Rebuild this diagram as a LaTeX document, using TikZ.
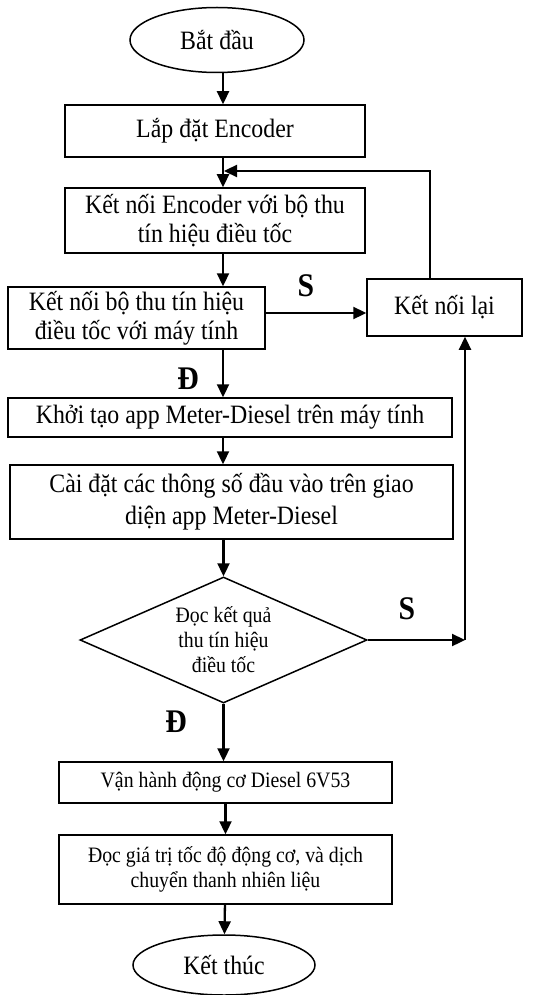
\documentclass[tikz,border=0pt]{standalone}
\usepackage{fontspec}
\setmainfont{Liberation Serif}[FakeStretch=0.9]
\usetikzlibrary{shapes.geometric,arrows.meta}

\begin{document}
\begin{tikzpicture}[x=1pt,y=1pt,
  box/.style={draw, rectangle, align=center, line width=1.5pt, inner sep=0pt, font=\fontsize{26.5}{29}\selectfont},
  oval/.style={draw, ellipse, line width=1.5pt, inner sep=0pt, font=\fontsize{26.5}{29}\selectfont},
  small/.style={font=\fontsize{22}{25}\selectfont},
  lbl/.style={inner sep=0pt, font=\fontsize{33}{33}\bfseries\selectfont},
  arr/.style={-{Triangle[length=13pt,width=12pt]}, line width=2.3pt}]
\useasboundingbox (0,0) rectangle (548,-995);
\coordinate (spine) at (223,0);
\node[oval, minimum width=174, minimum height=65] (start) at (217,-40) {Bắt đầu};
\node[box, minimum width=300, minimum height=52] (lap) at (215,-131) {Lắp đặt Encoder};
\node[box, minimum width=300, minimum height=65] (ketnoi) at (215,-220.5) {Kết nối Encoder với bộ thu\\tín hiệu điều tốc};
\node[box, minimum width=257, minimum height=62] (thubo) at (136.5,-318) {Kết nối bộ thu tín hiệu\\điều tốc với máy tính};
\node[box, minimum width=155, minimum height=57] (ketnoilai) at (444.5,-307.5) {Kết nối lại};
\node[box, minimum width=444, minimum height=39] (khoitao) at (230,-417.5) {Khởi tạo app Meter-Diesel trên máy tính};
\node[box, minimum width=443, minimum height=74, font=\fontsize{26.5}{32}\selectfont] (caidat) at (231.5,-502) {Cài đặt các thông số đầu vào trên giao\\diện app Meter-Diesel};
\node[draw, diamond, shape aspect=2.28, line width=1.5pt, inner sep=0pt, align=center, minimum width=287, minimum height=126, small] (docKQ) at (223.5,-640) {Đọc kết quả\\thu tín hiệu\\điều tốc};
\node[box, small, minimum width=333, minimum height=41] (vanhanh) at (225.5,-782.5) {Vận hành động cơ Diesel 6V53};
\node[box, small, minimum width=333, minimum height=69] (docGT) at (225.5,-869.5) {Đọc giá trị tốc độ động cơ, và dịch\\chuyển thanh nhiên liệu};
\node[oval, minimum width=182, minimum height=60] (stop) at (224,-965) {Kết thúc};
\node[lbl] (s1) at (306,-286) {S};
\node[lbl] (d1) at (188,-379) {Đ};
\node[lbl] (s2) at (407,-609) {S};
\node[lbl] (d2) at (176,-722) {Đ};
\coordinate (back) at (430,-171);
\coordinate (join) at (224,-171);
\coordinate (goc) at (465,-640);
\draw[arr] (start.south -| spine) -- (lap.north -| spine);
\draw[arr] (lap.south -| spine) -- (ketnoi.north -| spine);
\draw[arr] (ketnoi.south -| spine) -- (thubo.north -| spine);
\draw[arr] (thubo.south -| spine) -- (khoitao.north -| spine);
\draw[arr] (khoitao.south -| spine) -- (caidat.north -| spine);
\draw[arr] (caidat.south -| docKQ.north) -- (docKQ.north);
\draw[arr] (docKQ.south) -- (vanhanh.north -| docKQ.south);
\draw[arr] (vanhanh) -- (docGT);
\draw[arr] (docGT) -- (stop);
\draw[arr] ([yshift=5pt]thubo.east) -- ([yshift=5pt]thubo.east -| ketnoilai.west);
\draw[arr] (ketnoilai.north -| back) |- (join);
\draw[arr] (docKQ.east) -- (goc);
\draw[arr] (goc) -- (goc |- ketnoilai.south);
\end{tikzpicture}
\end{document}
